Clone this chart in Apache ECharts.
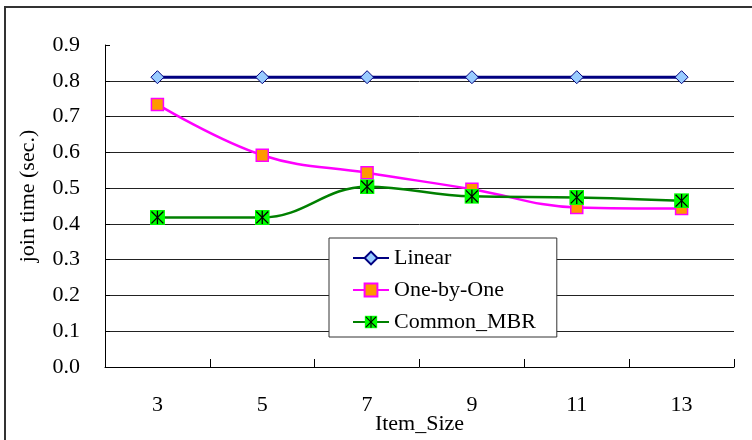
<!DOCTYPE html>
<html>
<head>
<meta charset="utf-8">
<script src="https://cdn.jsdelivr.net/npm/echarts@6/dist/echarts.min.js"></script>
<style>
  html, body { margin: 0; padding: 0; background: #fff; }
  #chart { width: 752px; height: 440px; }
</style>
</head>
<body>
<div id="chart"></div>
<script>
// Item sizes on the x axis and the measured join times per method
const categories = ['3', '5', '7', '9', '11', '13'];
const linear = [0.81, 0.81, 0.81, 0.81, 0.81, 0.81];
const oneByOne = [0.734, 0.592, 0.543, 0.497, 0.446, 0.443];
const commonMBR = [0.418, 0.418, 0.504, 0.477, 0.474, 0.465];
const seriesNames = ['Linear', 'One-by-One', 'Common_MBR'];

const FONT = '"Times New Roman", "Liberation Serif", serif';

// Green square with a black asterisk for the Common_MBR marker
const mbrSvg =
  '<svg xmlns="http://www.w3.org/2000/svg" width="15" height="15" viewBox="0 0 15 15">' +
  '<rect x="0" y="0" width="15" height="15" fill="#00FF00"/>' +
  '<g stroke="#000" stroke-width="1.3" stroke-linecap="square">' +
  '<line x1="7.5" y1="1.5" x2="7.5" y2="13.5"/>' +
  '<line x1="2" y1="2" x2="13" y2="13"/>' +
  '<line x1="13" y1="2" x2="2" y2="13"/>' +
  '</g></svg>';
const mbrSymbol = 'image://data:image/svg+xml;charset=utf-8,' + encodeURIComponent(mbrSvg);

const chart = echarts.init(document.getElementById('chart'), null, { renderer: 'canvas' });

chart.setOption({
  backgroundColor: '#fff',
  animation: false,
  textStyle: { fontFamily: FONT, color: '#000' },
  graphic: [{
    type: 'rect',
    silent: true,
    z: -10,
    shape: { x: 5, y: 7, width: 900, height: 600 },
    style: { fill: 'none', stroke: '#333', lineWidth: 2 }
  }],
  grid: {
    left: 105, right: 18, top: 45, bottom: 73,
    containLabel: false,
    outerBoundsMode: 'none'
  },
  legend: {
    orient: 'vertical',
    left: 329,
    top: 238,
    data: seriesNames,
    backgroundColor: '#fff',
    borderColor: '#333',
    borderWidth: 1,
    padding: [9, 21, 4, 23],
    itemGap: 10,
    itemWidth: 36,
    itemHeight: 16,
    textStyle: { fontFamily: FONT, fontSize: 22, color: '#000' },
    z: 10
  },
  xAxis: {
    type: 'category',
    data: categories,
    boundaryGap: true,
    name: 'Item_Size',
    nameLocation: 'middle',
    nameGap: 46,
    nameMoveOverlap: false,
    nameTextStyle: { fontFamily: FONT, fontSize: 22, color: '#000' },
    axisLine: { show: true, lineStyle: { color: '#000', width: 1 } },
    axisTick: { show: true, alignWithLabel: false, interval: 0, inside: true, length: 8, lineStyle: { color: '#000', width: 1 } },
    axisLabel: { fontFamily: FONT, fontSize: 22, color: '#000', margin: 27 },
    splitLine: { show: false }
  },
  yAxis: {
    type: 'value',
    min: 0,
    max: 0.9,
    interval: 0.1,
    name: 'join time (sec.)',
    nameLocation: 'middle',
    nameGap: 66,
    nameMoveOverlap: false,
    nameTextStyle: { fontFamily: FONT, fontSize: 22, color: '#000', padding: [0, 0, 0, 20] },
    axisLine: { show: true, lineStyle: { color: '#000', width: 1 } },
    axisTick: { show: true, inside: true, length: 5, lineStyle: { color: '#000' } },
    axisLabel: {
      fontFamily: FONT, fontSize: 22, color: '#000', margin: 25,
      formatter: v => v.toFixed(1)
    },
    splitLine: {
      show: true,
      showMinLine: false,
      showMaxLine: false,
      lineStyle: { color: '#222', width: 1 }
    }
  },
  series: [
    {
      name: seriesNames[0],
      type: 'line',
      data: linear,
      smooth: 0.4,
      symbol: 'diamond',
      symbolSize: 13,
      lineStyle: { color: '#000080', width: 3 },
      itemStyle: { color: '#99CCFF', borderColor: '#000080', borderWidth: 1 },
      z: 3
    },
    {
      name: seriesNames[1],
      type: 'line',
      data: oneByOne,
      smooth: 0.4,
      symbol: 'rect',
      symbolSize: 12,
      lineStyle: { color: '#FF00FF', width: 2.5 },
      itemStyle: { color: '#FF9900', borderColor: '#FF00FF', borderWidth: 1.5 },
      z: 4
    },
    {
      name: seriesNames[2],
      type: 'line',
      data: commonMBR,
      smooth: 0.4,
      symbol: mbrSymbol,
      symbolSize: 15,
      lineStyle: { color: '#008000', width: 2.5 },
      itemStyle: { color: '#00FF00' },
      z: 5
    }
  ]
});
</script>
</body>
</html>
